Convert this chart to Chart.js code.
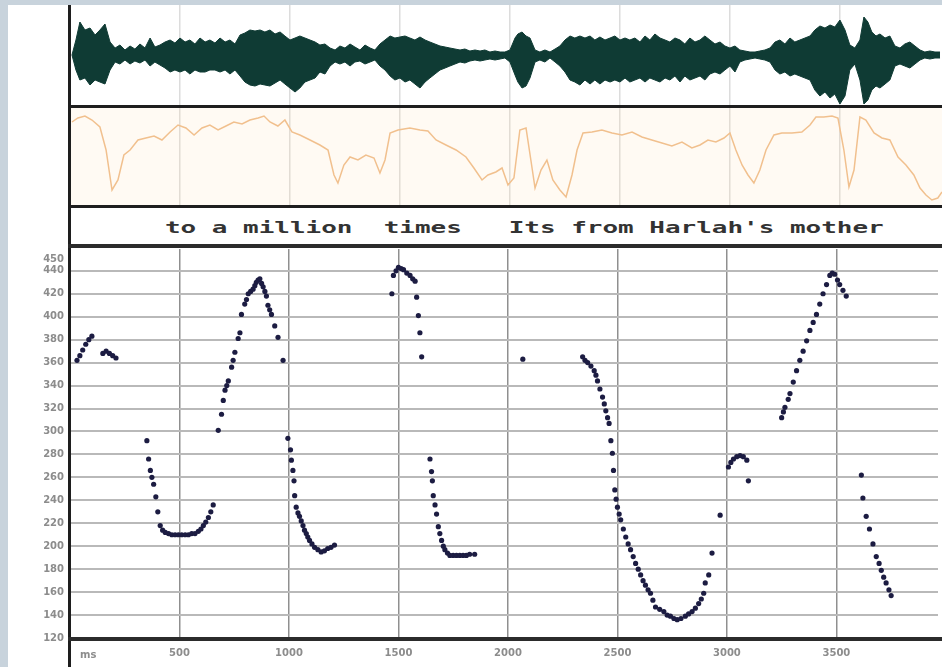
<!DOCTYPE html>
<html>
<head>
<meta charset="utf-8">
<title>Pitch track</title>
<script src="https://cdn.jsdelivr.net/npm/chart.js@4.4.1/dist/chart.umd.min.js"></script>
<style>
    html, body { margin: 0; padding: 0; }
    body {
        width: 942px;
        height: 667px;
        position: relative;
        overflow: hidden;
        background: #c8d3dc;
        font-family: "DejaVu Sans", sans-serif;
    }
    .sheet { position: absolute; left: 8px; top: 5px; width: 934px; height: 662px; background: #ffffff; }
    .box { position: absolute; }
    .box canvas { display: block; }
    .rule { position: absolute; background: #1e1e1e; }
    .words {
        position: absolute;
        left: 165px;
        top: 219px;
        font-family: "DejaVu Sans Mono", monospace;
        font-weight: bold;
        font-size: 15px;
        color: #333333;
        white-space: pre;
        transform: scaleX(1.73);
        transform-origin: left top;
    }
    .unit {
        position: absolute;
        left: 80px;
        top: 649px;
        font-size: 10px;
        font-weight: bold;
        color: #8c8c8c;
    }
</style>
</head>
<body>
<div class="sheet"></div>

<div class="box" style="left:70px; top:5px; background:#ffffff;">
    <canvas id="wave-chart" width="872" height="100"></canvas>
</div>
<div class="box" style="left:70px; top:108px; background:#fffaf3;">
    <canvas id="level-chart" width="872" height="97"></canvas>
</div>
<!-- canvas starts a little higher: the y axis reserves room above its top label -->
<div class="box" style="left:8px; top:237px;">
    <canvas id="pitch-chart" width="934" height="430"></canvas>
</div>

<div class="words">to a million  times   Its from Harlah's mother</div>
<div class="unit">ms</div>

<!-- panel rules -->
<div class="rule" style="left:68px; top:5px; width:3px; height:662px;"></div>
<div class="rule" style="left:68px; top:105px; width:874px; height:3px;"></div>
<div class="rule" style="left:68px; top:205px; width:874px; height:3px;"></div>
<div class="rule" style="left:68px; top:244px; width:874px; height:4px; background:#2b2b2b;"></div>
<div class="rule" style="left:68px; top:637px; width:874px; height:4px; background:#2b2b2b;"></div>

<script>
// Time axis (ms)
const timeMax = 3964;
const timeTicks = [500, 1000, 1500, 2000, 2500, 3000, 3500];

// Pitch axis (Hz)
const pitchMin = 120;
const pitchMax = 459;
const pitchTicks = [450, 440, 420, 400, 380, 360, 340, 320, 300, 280, 260, 240, 220, 200, 180, 160, 140, 120];

// Waveform envelope: time, upper and lower amplitude
const waveMs = [
    9, 27, 45, 68, 91, 114, 136, 159, 182, 205,
    227, 250, 273, 295, 318, 341, 364, 386, 409, 432,
    455, 477, 500, 523, 545, 568, 591, 614, 636, 659,
    682, 705, 727, 750, 773, 795, 818, 841, 864, 886,
    909, 932, 955, 977, 1000, 1023, 1045, 1068, 1091, 1114,
    1136, 1159, 1182, 1205, 1227, 1250, 1273, 1295, 1318, 1341,
    1364, 1386, 1409, 1432, 1455, 1477, 1500, 1523, 1545, 1568,
    1591, 1614, 1636, 1659, 1682, 1705, 1727, 1750, 1773, 1795,
    1818, 1841, 1864, 1886, 1909, 1932, 1955, 1977, 2000, 2023,
    2036, 2055, 2073, 2091, 2114, 2136, 2159, 2182, 2205, 2227,
    2250, 2273, 2295, 2318, 2341, 2364, 2386, 2409, 2432, 2455,
    2477, 2500, 2523, 2545, 2568, 2591, 2614, 2636, 2659, 2682,
    2705, 2727, 2750, 2773, 2795, 2818, 2841, 2864, 2886, 2909,
    2932, 2955, 2977, 3000, 3023, 3045, 3068, 3091, 3114, 3136,
    3159, 3182, 3205, 3227, 3250, 3273, 3295, 3318, 3341, 3364,
    3386, 3409, 3432, 3455, 3477, 3500, 3523, 3545, 3568, 3591,
    3609, 3627, 3645, 3664, 3682, 3705, 3727, 3750, 3773, 3795,
    3818, 3841, 3864, 3886, 3909, 3932, 3955
];
const waveTop = [
    0, 15, 33, 25, 27, 20, 25, 31, 13, 7,
    10, 5, 9, 6, 11, 7, 17, 8, 10, 13,
    15, 12, 17, 13, 15, 11, 17, 13, 15, 12,
    17, 13, 15, 11, 20, 22, 25, 24, 25, 23,
    25, 21, 23, 19, 15, 17, 19, 17, 15, 13,
    10, 11, 7, 5, 9, 7, 11, 8, 5, 10,
    7, 5, 11, 15, 19, 17, 18, 19, 17, 15,
    18, 15, 13, 11, 9, 8, 7, 6, 5, 6,
    4, 5, 4, 5, 3, 4, 3, 3, 5, 17,
    21, 23, 19, 17, 5, 3, 5, 3, 6, 9,
    15, 19, 17, 19, 17, 19, 15, 18, 15, 17,
    19, 15, 17, 15, 17, 13, 19, 15, 21, 17,
    15, 13, 17, 15, 11, 17, 13, 15, 19, 15,
    11, 13, 9, 7, 9, 5, 4, 3, 3, 4,
    5, 7, 13, 15, 11, 17, 13, 15, 17, 19,
    25, 29, 27, 30, 28, 35, 25, 10, 7, 15,
    38, 33, 23, 19, 21, 17, 19, 9, 7, 11,
    13, 9, 5, 3, 4, 3, 3
];
const waveBottom = [
    0, -15, -25, -23, -30, -25, -27, -29, -15, -7,
    -9, -5, -9, -6, -8, -5, -11, -7, -10, -13,
    -17, -15, -17, -15, -19, -15, -17, -17, -15, -15,
    -17, -15, -19, -15, -21, -27, -30, -31, -29, -30,
    -31, -28, -25, -29, -33, -37, -33, -27, -25, -23,
    -17, -19, -11, -7, -9, -7, -11, -7, -6, -9,
    -7, -5, -11, -15, -21, -25, -23, -27, -25, -29,
    -33, -27, -23, -19, -15, -13, -11, -9, -7, -8,
    -6, -5, -6, -5, -4, -5, -4, -3, -7, -20,
    -27, -33, -31, -23, -7, -5, -7, -3, -7, -11,
    -17, -25, -27, -30, -25, -29, -25, -29, -25, -27,
    -25, -27, -23, -27, -25, -23, -27, -23, -25, -27,
    -23, -25, -21, -27, -21, -25, -23, -21, -25, -19,
    -17, -19, -15, -11, -17, -7, -5, -4, -3, -4,
    -5, -7, -15, -19, -17, -21, -19, -21, -23, -25,
    -35, -41, -37, -43, -39, -49, -41, -15, -9, -25,
    -49, -45, -35, -31, -33, -29, -25, -11, -9, -11,
    -13, -9, -5, -3, -4, -3, -3
];

// Second panel: level contour
const levelMs = [
    9, 36, 68, 100, 136, 164, 191, 218, 245, 273,
    309, 345, 382, 418, 455, 491, 527, 564, 600, 636,
    673, 709, 745, 782, 818, 855, 882, 909, 945, 977,
    1009, 1045, 1091, 1136, 1173, 1200, 1218, 1245, 1273, 1309,
    1345, 1382, 1409, 1432, 1455, 1491, 1545, 1591, 1627, 1664,
    1709, 1755, 1800, 1836, 1873, 1900, 1936, 1964, 1991, 2018,
    2045, 2073, 2095, 2114, 2141, 2168, 2195, 2227, 2255, 2282,
    2305, 2332, 2373, 2418, 2464, 2509, 2555, 2600, 2645, 2691,
    2736, 2782, 2827, 2864, 2900, 2936, 2973, 3000, 3027, 3055,
    3082, 3109, 3136, 3164, 3200, 3236, 3282, 3327, 3364, 3391,
    3427, 3464, 3491, 3518, 3541, 3564, 3591, 3618, 3655, 3691,
    3727, 3764, 3800, 3836, 3864, 3891, 3918, 3945, 3964
];
const levelValues = [
    83, 87, 89, 85, 78, 55, 15, 25, 50, 55,
    65, 67, 69, 65, 73, 80, 77, 70, 77, 80,
    75, 79, 83, 81, 85, 87, 89, 83, 79, 85,
    73, 70, 65, 60, 55, 30, 22, 40, 48, 45,
    50, 47, 32, 45, 72, 75, 77, 75, 74, 65,
    60, 55, 48, 37, 25, 30, 33, 37, 20, 27,
    75, 77, 45, 17, 35, 45, 25, 15, 8, 30,
    55, 72, 73, 75, 72, 70, 73, 68, 65, 62,
    59, 63, 57, 60, 65, 63, 67, 72, 55, 40,
    30, 22, 35, 55, 70, 72, 72, 73, 80, 88,
    88, 89, 87, 55, 18, 35, 88, 85, 72, 67,
    65, 48, 40, 30, 17, 10, 5, 7, 13
];

// Pitch track: time (ms) and F0 (Hz)
const pitchMs = [
    32, 45, 58, 72, 86, 100, 150, 165, 180, 195, 210,
    351, 359, 367, 374, 382, 392, 401, 412, 423, 435, 450, 465, 480, 495, 510, 526, 541, 556, 571, 586, 598, 609, 620, 632, 643, 654,
    677, 692, 700, 708, 716, 723, 738, 745, 753, 768, 776, 783, 798, 806, 814, 825, 836, 844, 851, 859, 867, 875, 882, 890, 897, 904, 912, 920, 935, 950, 973,
    995, 1007, 1011, 1018, 1023, 1026, 1033, 1041, 1048, 1056, 1064, 1071, 1079, 1086, 1094, 1105, 1117, 1132, 1147, 1162, 1177, 1192, 1208,
    1470, 1477, 1489, 1500, 1512, 1523, 1538, 1553, 1565, 1576, 1583, 1591, 1598, 1606,
    1644, 1651, 1655, 1659, 1667, 1674, 1682, 1689, 1697, 1705, 1712, 1724, 1735, 1750, 1765, 1780, 1795, 1810, 1825, 1848,
    2068,
    2341, 2352, 2364, 2379, 2394, 2402, 2409, 2420, 2432, 2440, 2447, 2455, 2462, 2470, 2477, 2482, 2488, 2494, 2500, 2508,
    2515, 2527, 2538, 2549, 2560, 2572, 2583, 2595, 2606, 2617, 2628, 2640, 2651, 2662, 2674, 2693, 2712, 2727, 2742, 2758,
    2773, 2790, 2810, 2825, 2841, 2856, 2871, 2883, 2894, 2901, 2917, 2932, 2969, 3007, 3018, 3030, 3045, 3060, 3075, 3091, 3098,
    3250, 3258, 3265, 3280, 3288, 3303, 3318, 3333, 3348, 3364, 3379, 3394, 3409, 3424, 3439, 3455, 3470, 3481, 3492, 3505, 3515, 3530, 3545,
    3614, 3621, 3636, 3651, 3667, 3682, 3695, 3705, 3716, 3727, 3740, 3750
];
const pitchHz = [
    362, 366, 371, 376, 380, 383, 368, 370, 368, 366, 364,
    292, 276, 266, 260, 254, 243, 230, 218, 214, 212, 211, 210, 210, 210, 210, 210, 210, 211, 211, 213, 215, 218, 221, 225, 230, 236,
    301, 315, 327, 336, 340, 344, 356, 362, 369, 381, 386, 402, 411, 415, 420, 422, 424, 427, 430, 432, 433, 429, 426, 422, 418, 410, 406, 402, 392, 382, 362,
    294, 284, 275, 266, 257, 244, 234, 229, 226, 222, 218, 214, 211, 208, 205, 202, 199, 197, 195, 196, 198, 199, 201,
    420, 436, 440, 443, 442, 441, 438, 436, 433, 431, 417, 401, 386, 365,
    276, 265, 257, 244, 236, 228, 217, 211, 205, 200, 197, 194, 192, 192, 192, 192, 192, 192, 193, 193,
    363,
    365, 362, 360, 357, 353, 349, 344, 337, 330, 324, 318, 312, 307, 292, 281, 266, 249, 241, 234, 228,
    223, 215, 208, 202, 197, 191, 185, 180, 175, 170, 166, 162, 159, 153, 147, 145, 143, 140, 139, 137,
    136, 137, 139, 141, 143, 146, 150, 154, 159, 168, 175, 194, 227, 269, 273, 276, 278, 279, 278, 275, 257,
    312, 317, 321, 328, 333, 343, 353, 362, 370, 379, 388, 395, 402, 411, 420, 428, 436, 438, 437, 432, 428, 423, 418,
    262, 242, 226, 215, 202, 191, 185, 179, 173, 168, 162, 157
];

// Colours
const waveColor = '#0f3b34';
const levelColor = '#f1c08e';
const pitchColor = '#1c1c42';
const labelColor = '#8c8c8c';

Chart.defaults.animation = false;
Chart.defaults.font.family = '"DejaVu Sans", sans-serif';

function toPoints(xs, ys) {
    return xs.map((x, i) => ({ x: x, y: ys[i] }));
}

// x axis shared by all panels, label-less on the upper ones
function timeAxis(gridColor, showLabels) {
    return {
        type: 'linear',
        min: 0,
        max: timeMax,
        afterBuildTicks: scale => { scale.ticks = timeTicks.map(v => ({ value: v })); },
        afterFit: scale => { scale.height = showLabels ? 29 : 0; },
        border: { display: false },
        grid: { color: gridColor, lineWidth: 1.5, drawTicks: false },
        ticks: {
            display: showLabels,
            color: labelColor,
            padding: 9,
            maxRotation: 0,
            font: { size: 10, weight: 'bold' },
            callback: value => String(value)
        }
    };
}

function initializeWaveChart() {
    const ctx = document.getElementById('wave-chart').getContext('2d');
    new Chart(ctx, {
        type: 'line',
        data: {
            datasets: [{
                data: toPoints(waveMs, waveTop),
                borderColor: waveColor,
                backgroundColor: waveColor,
                borderWidth: 1,
                pointRadius: 0,
                fill: '+1'
            }, {
                data: toPoints(waveMs, waveBottom),
                borderColor: waveColor,
                borderWidth: 1,
                pointRadius: 0,
                fill: false
            }]
        },
        options: {
            responsive: false,
            layout: { padding: 0 },
            plugins: { legend: { display: false }, tooltip: { enabled: false } },
            scales: {
                x: timeAxis('#dcdcdc', false),
                y: { min: -50, max: 50, display: false }
            }
        }
    });
}

function initializeLevelChart() {
    const ctx = document.getElementById('level-chart').getContext('2d');
    new Chart(ctx, {
        type: 'line',
        data: {
            datasets: [{
                data: toPoints(levelMs, levelValues),
                borderColor: levelColor,
                borderWidth: 1.5,
                pointRadius: 0,
                fill: false
            }]
        },
        options: {
            responsive: false,
            layout: { padding: 0 },
            plugins: { legend: { display: false }, tooltip: { enabled: false } },
            scales: {
                x: timeAxis('#e2dcd4', false),
                y: { min: 0, max: 97, display: false }
            }
        }
    });
}

function initializePitchChart() {
    const ctx = document.getElementById('pitch-chart').getContext('2d');
    new Chart(ctx, {
        type: 'scatter',
        data: {
            datasets: [{
                data: toPoints(pitchMs, pitchHz),
                backgroundColor: pitchColor,
                borderWidth: 0,
                pointRadius: 2.6
            }]
        },
        options: {
            responsive: false,
            layout: { padding: 0 },
            plugins: { legend: { display: false }, tooltip: { enabled: false } },
            scales: {
                x: timeAxis('#8f8f8f', true),
                y: {
                    type: 'linear',
                    min: pitchMin,
                    max: pitchMax,
                    afterBuildTicks: scale => { scale.ticks = pitchTicks.map(v => ({ value: v })); },
                    afterFit: scale => { scale.width = 62; },
                    border: { display: false },
                    grid: {
                        color: ctx => ctx.tick && ctx.tick.value === 450 ? 'rgba(0,0,0,0)' : '#b9b9b9',
                        lineWidth: 2,
                        drawTicks: false
                    },
                    ticks: {
                        color: labelColor,
                        padding: 6,
                        font: { size: 10, weight: 'bold' }
                    }
                }
            }
        }
    });
}

initializeWaveChart();
initializeLevelChart();
initializePitchChart();
</script>
</body>
</html>
